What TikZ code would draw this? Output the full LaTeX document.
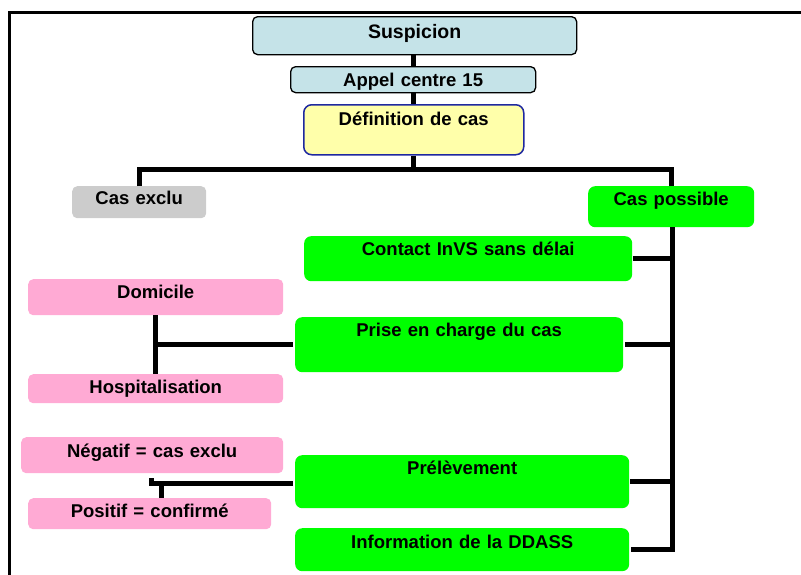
\documentclass[tikz,border=0pt]{standalone}
\usepackage{fontspec}
\setmainfont{Liberation Sans}
\definecolor{lblue}{RGB}{197,227,232}
\definecolor{lyel}{RGB}{255,255,170}
\definecolor{navyb}{RGB}{30,40,160}
\definecolor{lgray}{RGB}{204,204,204}
\definecolor{vgreen}{RGB}{0,255,0}
\definecolor{lpink}{RGB}{255,170,212}
\tikzset{
  bx/.style={inner sep=0pt, anchor=north west, align=center, font=\fontsize{18.5}{20}\selectfont\bfseries},
  bluebox/.style={bx, fill=lblue, draw=black, line width=1.3pt, rounded corners=5pt},
  yelbox/.style={bx, fill=lyel, draw=navyb, line width=1.5pt, rounded corners=8pt},
  graybox/.style={bx, fill=lgray, rounded corners=5pt},
  greenbox/.style={bx, fill=vgreen, rounded corners=7pt},
  pinkbox/.style={bx, fill=lpink, rounded corners=5pt},
  conn/.style={draw=black, line width=5pt, line join=miter},
}
\begin{document}
\begin{tikzpicture}[x=1pt, y=-1pt]
\useasboundingbox (0,0) rectangle (801,574);
\clip (0,0) rectangle (801,574);
% frame
\draw[line width=3.2pt] (9.5,620) -- (9.5,12.5) -- (840,12.5);
% boxes
\node[bluebox, text width=324pt, text height=22pt, text depth=16pt, font=\fontsize{19.5}{21}\selectfont\bfseries] (sus) at (252,16) {Suspicion};
\node[bluebox, text width=245pt, text height=20pt, text depth=6pt] (app) at (290,66) {Appel centre 15};
\node[yelbox, text width=220pt, text height=21pt, text depth=29pt] (def) at (303,104) {Définition de cas};
\node[graybox, text width=134pt, text height=18pt, text depth=14pt] (exc) at (72,186) {Cas exclu};
\node[greenbox, text width=166pt, text height=19pt, text depth=22pt] (pos) at (588,186) {Cas possible};
\node[greenbox, text width=328pt, text height=19pt, text depth=26pt] (con) at (304,236) {Contact InVS sans délai};
\node[greenbox, text width=328pt, text height=19pt, text depth=36pt] (pri) at (295,317) {Prise en charge du cas};
\node[greenbox, text width=334pt, text height=19pt, text depth=34pt] (pre) at (295,455) {Prélèvement};
\node[greenbox, text width=334pt, text height=20pt, text depth=23pt] (inf) at (295,528) {Information de la DDASS};
\node[pinkbox, text width=255pt, text height=19pt, text depth=17pt] (dom) at (28,279) {Domicile};
\node[pinkbox, text width=255pt, text height=19pt, text depth=10pt] (hos) at (28,374) {Hospitalisation};
\node[pinkbox, text width=262pt, text height=20pt, text depth=16pt] (neg) at (21,437) {Négatif = cas exclu};
\node[pinkbox, text width=243pt, text height=19pt, text depth=12pt] (psf) at (28,498) {Positif = confirmé};
% coordinates
\coordinate (tx) at (413.5,0);
\coordinate (jy) at (0,169.5);
\coordinate (sx) at (672,0);
\coordinate (pk) at (151,483);
\coordinate (pst) at (161.5,483);
% connectors
\draw[conn] (sus.south -| tx) -- (app.north -| tx);
\draw[conn] (app.south -| tx) -- (def.north -| tx);
\draw[conn] (def.south -| tx) -- (tx |- jy);
\draw[conn] (exc.north) -- (exc.north |- jy) -- (pos.north |- jy) -- (pos.north);
\draw[conn] (pos.south -| sx) -- (inf.east -| sx) -- ([xshift=2pt]inf.east);
\draw[conn] ([xshift=1pt]con.east) -- (con.east -| sx);
\draw[conn] ([xshift=2pt]pri.east) -- (pri.east -| sx);
\draw[conn] ([xshift=1pt]pre.east) -- (pre.east -| sx);
\draw[conn] (dom.south) -- (hos.north);
\draw[conn] ([xshift=-2pt]pri.west) -- (pri.west -| dom.south);
\draw[conn] ([xshift=-2pt]pre.west |- pk) -- (pk) -- ++(0,-5);
\draw[conn] (pst) -- (pst |- psf.north);
\end{tikzpicture}
\end{document}
